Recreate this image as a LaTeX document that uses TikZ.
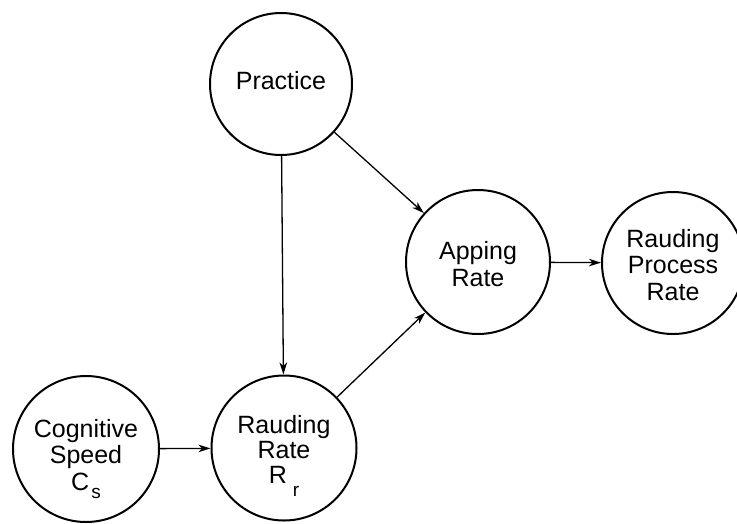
\documentclass[tikz,border=0pt]{standalone}
\usepackage{fontspec}
\setmainfont{Liberation Sans}
\usetikzlibrary{arrows.meta}
\tikzset{
  bubble/.style={circle, draw=black, line width=2pt, inner sep=0pt},
  words/.style={inner sep=0pt, align=center, font=\fontsize{25}{26.5}\selectfont},
  link/.style={line width=1.3pt, -{Stealth[length=12pt,width=7.5pt,inset=3.5pt]}},
}
\newcommand{\lowsub}[2]{\smash{\raisebox{-#1}{\fontsize{19}{19}\selectfont #2}}}
\begin{document}
\begin{tikzpicture}[x=1pt,y=-1pt]
\useasboundingbox (0,0) rectangle (737,523);
\clip (0,0) rectangle (737,523);
\node[bubble, minimum size=142pt] (prac) at (281,84) {};
\node[bubble, minimum size=144pt] (app) at (478,262) {};
\node[bubble, minimum size=142pt] (rpr) at (673,263) {};
\node[bubble, minimum size=146pt] (cog) at (86,449) {};
\node[bubble, minimum size=145pt] (rr) at (284,448) {};
\node[words] (pract) at ([yshift=3pt]prac.center) {Practice};
\node[words] (appt) at ([yshift=-2pt]app.center) {Apping\\Rate};
\node[words] (rprt) at ([yshift=-2pt]rpr.center) {Rauding\\Process\\Rate};
\node[words] (cogt) at ([yshift=-6pt]cog.center) {Cognitive\\Speed\\C\hspace{2pt}\lowsub{8pt}{s}};
\node[words, font=\fontsize{25}{25}\selectfont] (rrt) at ([yshift=-1pt]rr.center) {Rauding\\Rate\\R\hspace{6pt}\lowsub{13pt}{r}};
\draw[link] (prac) -- (app);
\draw[link] (prac) -- (rr);
\draw[link] (rr) -- (app);
\draw[link] (cog) -- (rr);
\draw[link] (app) -- (rpr);
\end{tikzpicture}
\end{document}
